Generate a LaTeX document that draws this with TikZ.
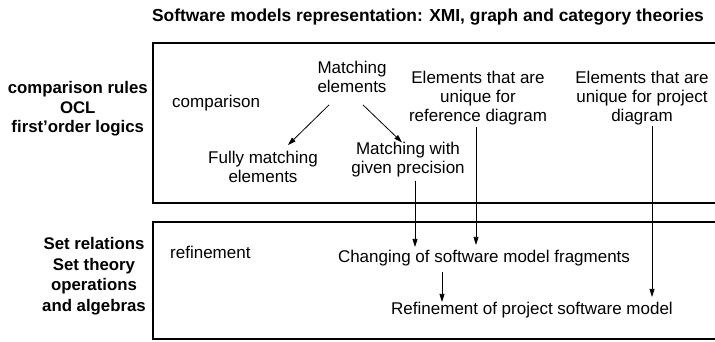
\documentclass[tikz,border=0pt]{standalone}
\usepackage{fontspec}
\setmainfont{Liberation Sans}
\usetikzlibrary{arrows.meta}

\begin{document}
\begin{tikzpicture}[x=1pt, y=-1pt,
      txt/.style={font=\fontsize{17}{19}\selectfont, align=center, inner sep=0pt},
      side/.style={font=\fontsize{16.8}{19.5}\selectfont\bfseries, align=center, inner sep=0pt},
      frame/.style={line width=1.4pt},
      arr/.style={-{Triangle[length=8pt,width=5pt]}, line width=0.8pt}
  ]
    \useasboundingbox (0,0) rectangle (715,341);
    \node[side, font=\fontsize{17.4}{20}\selectfont\bfseries] (title) at (428,17)
         {Software models representation: XMI, graph and category theories};
    % frames
    \draw[frame] (717,43) -- (153,43) -- (153,203) -- (717,203);
    \draw[frame] (717,222) -- (153,222) -- (153,339) -- (717,339);
    \node[side, anchor=east] (cmprules) at (148,109) {comparison rules\\ OCL\\ first’order logics};
    \node[side, anchor=east, font=\fontsize{16.8}{20.5}\selectfont\bfseries] (setrel) at (146,276)
         {Set relations\\ Set theory\\ operations\\ and algebras};
    % comparison
    \node[txt, anchor=west] (cmp) at (172,103) {comparison};
    \node[txt] (match) at (352,77) {Matching\\ elements};
    \node[txt] (ref)   at (478,98) {Elements that are\\ unique for\\ reference diagram};
    \node[txt] (proj)  at (642,98) {Elements that are\\ unique for project\\ diagram};
    \node[txt] (fully) at (263,167) {Fully matching\\ elements};
    \node[txt] (prec)  at (408,160) {Matching with\\ given precision};
    % refinement
    \node[txt, anchor=west] (refn) at (170,252) {refinement};
    \node[txt] (chg)  at (484,258) {Changing of software model fragments};
    \node[txt] (refp) at (532,310) {Refinement of project software model};
    \draw[arr] ([xshift=-23pt,yshift=-12pt]match.south) -- ([xshift=25pt,yshift=6pt]fully.north);
    \draw[arr] ([xshift=11pt,yshift=-12pt]match.south) -- ([xshift=-6pt]prec.north);
    \draw[arr] ([xshift=7pt,yshift=-3pt]prec.south) -- ([xshift=7pt,yshift=3pt]prec.south |- chg.north);
    \draw[arr] ([xshift=-2pt,yshift=-2pt]ref.south) -- ([xshift=-2pt,yshift=5pt]ref.south |- chg.north);
    \draw[arr] ([xshift=10pt,yshift=-1pt]proj.south) -- ([xshift=10pt,yshift=5pt]proj.south |- refp.north);
    \draw[arr] ([xshift=-42pt,yshift=-6pt]chg.south) -- ([xshift=-42pt]chg.south |- refp.north);
  \end{tikzpicture}
\end{document}
